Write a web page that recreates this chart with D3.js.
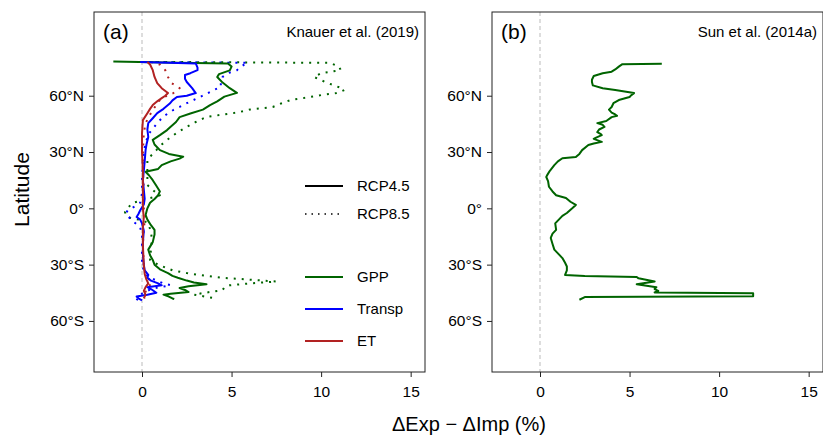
<!DOCTYPE html>
<html>
<head>
<meta charset="utf-8">
<script src="https://cdn.jsdelivr.net/npm/d3@7"></script>
<style>
  body { margin: 0; background: #fff; }
  svg text { font-family: "Liberation Sans", Arial, sans-serif; fill: #000; }
</style>
</head>
<body>
<div id="chart"></div>
<script>
// [latitude, value] pairs, north to south
const gpp45 = [[78.2,-1.6],[77.6,2.0],[77.2,4.8],[75.5,5.0],[73.5,4.9],[71.5,4.3],[70,4.2],[67,4.5],[64,4.9],[61.5,5.3],[59.5,4.6],[57,4.2],[55,3.8],[52.6,3.4],[50.5,2.7],[48.6,2.1],[46,1.9],[43.5,1.6],[41.7,1.4],[39,1.0],[36.5,0.6],[34,0.7],[31,1.0],[29,1.5],[27.5,2.3],[26.5,2.1],[25,1.6],[23,1.1],[21,0.9],[19.5,0.2],[17.5,0.4],[15,0.6],[12,0.8],[9,1.0],[7,0.9],[5,0.7],[3,0.45],[0,0.3],[-3.5,0.2],[-6,0.3],[-9,0.5],[-11.5,0.7],[-14,0.7],[-18,0.6],[-22,0.35],[-25,0.45],[-27.5,0.6],[-30,0.7],[-32.5,1.0],[-34.5,1.45],[-36,1.7],[-37,2.0],[-38.5,2.5],[-39.5,2.9],[-40.5,3.6],[-41.5,2.6],[-42.5,2.1],[-43.5,2.4],[-44.6,2.6],[-45.5,1.6],[-46,1.2],[-47,1.5],[-48,1.7],[-48.3,1.8]]
const gpp85 = [[78,0.4],[77.8,5],[77.5,10.5],[75.5,11.0],[73.6,11.1],[72,10.0],[70,9.6],[67,10.3],[64.5,11.0],[63,11.3],[61.4,10.9],[60.5,10.1],[59,9.2],[57.7,8.3],[56,7.8],[54,7.3],[52.6,6.0],[51,5.3],[48.7,3.6],[46,3.0],[43.4,2.5],[40.5,2.0],[38,1.6],[34,1.1],[31,0.8],[28,0.5],[25.7,0.3],[20,0.3],[15,0.3],[12.4,0.3],[9,0.7],[7,1.0],[5,0.3],[2.8,-0.55],[0,-0.8],[-2,-0.95],[-4.6,-0.85],[-6,-0.2],[-7.5,0.3],[-12,0.5],[-16.9,0.55],[-22,0.5],[-27.5,0.45],[-30,0.9],[-33,1.7],[-34.5,2.5],[-35.5,3.2],[-37,4.5],[-38,6.0],[-39,7.5],[-40,6.0],[-41,4.9],[-42,4.6],[-43.6,4.5],[-45,3.5],[-46,2.9],[-47,3.5],[-48,4.1]]
const transp45 = [[78,-0.1],[77.6,1.5],[77.2,3.0],[75,3.1],[73.6,3.1],[72,2.7],[71,2.4],[69,2.4],[67.3,2.5],[64,2.8],[61.4,3.0],[60,2.5],[59.3,1.95],[57.5,1.7],[55.8,1.55],[53,1.2],[50.7,0.85],[48,0.6],[45.4,0.35],[42,0.3],[38,0.35],[34,0.25],[31,0.2],[25,0.15],[20,0.1],[15,0.05],[10,0.1],[5,0.15],[2,0.1],[-1,-0.1],[-3,-0.2],[-4.6,-0.3],[-6,-0.1],[-8,0.0],[-12,0.1],[-18,0.05],[-25,0.05],[-30,0.1],[-33,0.15],[-35.5,0.35],[-37,0.3],[-38.5,0.5],[-40,0.9],[-41,1.1],[-42,0.3],[-43,0.5],[-45,0.8],[-46,0.3],[-47,-0.3],[-48,-0.2],[-49,0.0]]
const transp85 = [[78,0.3],[77.8,3],[77.5,5.9],[75.5,5.5],[73.6,5.3],[72,4.8],[70,4.5],[67,4.4],[64.6,4.4],[63,4.0],[61,3.6],[58.7,3.1],[56,2.5],[54,2.1],[52.4,1.75],[49,1.2],[45.4,0.85],[40,0.4],[35,0.2],[30,0.1],[25.7,0.05],[15,0.0],[8,0.0],[3,-0.1],[1,-0.4],[-1,-0.8],[-3,-0.9],[-5,-0.7],[-7,-0.5],[-10,-0.1],[-15,0.0],[-25,0.0],[-30,0.0],[-33,0.1],[-36,0.3],[-38,0.7],[-40,1.2],[-41,1.6],[-42,1.0],[-43,0.5],[-44.5,0.2],[-46,-0.1],[-47.5,-0.2],[-49,-0.3]]
const et45 = [[78,0.3],[76.6,0.45],[73.6,0.6],[70,0.7],[66.7,0.85],[64,1.1],[61.4,1.45],[60,1.3],[58.7,1.1],[57,0.85],[55,0.6],[53,0.45],[50.7,0.3],[47,0.05],[40,0.0],[30,0.0],[20,0.05],[10,0.05],[0,0.05],[-5,0.1],[-10,0.05],[-20,0.05],[-30,0.1],[-35,0.15],[-38,0.25],[-40,0.35],[-42,0.2],[-44,0.1],[-46,0.2],[-48,0.1]]
const et85 = [[78,0.5],[76.6,1.0],[73.6,1.3],[70,1.45],[66.7,1.65],[64,2.1],[61.4,1.75],[59.5,1.3],[57.7,1.0],[55,0.8],[52.4,0.6],[49,0.4],[45.4,0.2],[40,0.1],[30,0.05],[20,0.05],[10,0.1],[0,0.1],[-5,0.2],[-10,0.1],[-20,0.05],[-30,0.1],[-35,0.2],[-38,0.4],[-40,0.55],[-42,0.3],[-44,0.2],[-46,0.25],[-48,0.15]]
const sun = [[77,6.8],[76.8,4.6],[75.5,4.4],[74,4.2],[72.8,4.0],[72,3.5],[70.5,3.0],[68.5,2.9],[67.3,2.9],[65.5,2.95],[64,3.5],[63,4.2],[61.4,5.25],[60.3,5.1],[59.3,5.0],[57.7,4.4],[56,4.1],[54,4.0],[52.6,3.85],[51,4.0],[50,4.2],[49.3,4.3],[48.6,4.0],[46.5,3.7],[45.4,3.2],[44.5,3.5],[43.4,3.6],[42,3.3],[40.6,3.2],[39.5,3.4],[39,3.45],[37.5,3.1],[37,3.0],[35.4,3.45],[34.5,3.0],[33.7,2.7],[31,2.35],[29,2.2],[27.3,2.0],[26.7,1.25],[25,1.0],[23,0.8],[20,0.55],[17.7,0.4],[16.7,0.35],[14.5,0.45],[11.5,0.5],[9,0.7],[7,0.9],[5.5,1.45],[3.5,1.7],[1.8,2.0],[0,1.8],[-2.5,1.5],[-4,1.25],[-6,1.05],[-8,0.85],[-11.5,0.9],[-13.5,0.7],[-15.8,0.6],[-19,0.7],[-22,0.8],[-24,1.0],[-26.5,1.25],[-29,1.4],[-31,1.5],[-33,1.5],[-35.5,1.4],[-36,2.5],[-36.6,5.4],[-37.3,5.5],[-39,6.4],[-40.5,5.4],[-42,6.5],[-43,6.4],[-44,6.6],[-44.8,6.4],[-45.3,11.9],[-46.8,11.9],[-47.3,2.5],[-48.7,2.2]]

const xTicks = [0, 5, 10, 15]
const latTicks = [60, 30, 0, -30, -60]
const latLabels = ['60°N', '30°N', '0°', '30°S', '60°S']
const legendScen = ['RCP4.5', 'RCP8.5']
const legendVars = ['GPP', 'Transp', 'ET']
const varColors = ['#006400', '#0000ff', '#b22222']

const W = 823, H = 436
const pw = 331, ph = 360, panelTop = 12
const svg = d3.select('#chart').append('svg').attr('width', W).attr('height', H)

const x = d3.scaleLinear().domain([-2.68, 15.8]).range([0, pw])
const y = d3.scaleLinear().domain([-87.2, 104.6]).range([ph, 0])
const line = d3.line().x(d => x(d[1])).y(d => y(d[0]))

function panel (left, tag, source, series) {
  let g = svg.append('g').attr('transform', 'translate(' + left + ',' + panelTop + ')')
  // zero line
  g.append('line')
    .attr('x1', x(0)).attr('x2', x(0)).attr('y1', 0).attr('y2', ph)
    .attr('stroke', '#bbb').attr('stroke-dasharray', '4,3')
  series.forEach(s => {
    g.append('path')
      .attr('d', line(s.data))
      .attr('fill', 'none')
      .attr('stroke', s.color)
      .attr('stroke-width', 2)
      .attr('stroke-dasharray', s.dotted ? '2,6' : null)
      .attr('stroke-linejoin', 'round')
  })
  // axes
  let ax = g.append('g').attr('transform', 'translate(0,' + ph + ')')
    .call(d3.axisBottom(x).tickValues(xTicks).tickSize(5).tickPadding(5).tickFormat(d3.format('d')))
  let ay = g.append('g')
    .call(d3.axisLeft(y).tickValues(latTicks).tickSize(5).tickPadding(5).tickFormat((d, i) => latLabels[i]))
  ;[ax, ay].forEach(a => {
    a.select('.domain').remove()
    a.selectAll('line').attr('stroke', '#222')
    a.selectAll('text').attr('font-size', 15.5).attr('font-family', '"Liberation Sans", Arial, sans-serif')
  })
  ax.selectAll('text').attr('dy', '0.95em')
  g.append('rect').attr('width', pw).attr('height', ph)
    .attr('fill', 'none').attr('stroke', '#222').attr('stroke-width', 1)
  g.append('text').attr('x', 9).attr('y', 27).attr('font-size', 21).text(tag)
  g.append('text').attr('x', pw - 6).attr('y', 25).attr('font-size', 15)
    .attr('text-anchor', 'end').text(source)
  return g
}

let ga = panel(94, '(a)', 'Knauer et al. (2019)', [
  {data: gpp85, color: varColors[0], dotted: true},
  {data: transp85, color: varColors[1], dotted: true},
  {data: et85, color: varColors[2], dotted: true},
  {data: gpp45, color: varColors[0]},
  {data: transp45, color: varColors[1]},
  {data: et45, color: varColors[2]}
])
panel(492, '(b)', 'Sun et al. (2014a)', [{data: sun, color: varColors[0]}])

// legend in panel (a)
let legY = [174, 202, 265, 297, 329]
let legItems = [
  {label: legendScen[0], color: '#000'},
  {label: legendScen[1], color: '#000', dotted: true},
  {label: legendVars[0], color: varColors[0]},
  {label: legendVars[1], color: varColors[1]},
  {label: legendVars[2], color: varColors[2]}
]
legItems.forEach((d, i) => {
  ga.append('line').attr('x1', 211).attr('x2', 249).attr('y1', legY[i]).attr('y2', legY[i])
    .attr('stroke', d.color).attr('stroke-width', d.dotted ? 1.5 : 2)
    .attr('stroke-dasharray', d.dotted ? '1.5,5' : null)
  ga.append('text').attr('x', 263).attr('y', legY[i]).attr('dy', '0.35em')
    .attr('font-size', 15).text(d.label)
})

// axis titles
svg.append('text').attr('transform', 'translate(29,' + (panelTop + y(10)) + ') rotate(-90)')
  .attr('text-anchor', 'middle').attr('font-size', 21).text('Latitude')
svg.append('text').attr('x', 469).attr('y', 431).attr('text-anchor', 'middle')
  .attr('font-size', 20).text('ΔExp − ΔImp (%)')
</script>
</body>
</html>
